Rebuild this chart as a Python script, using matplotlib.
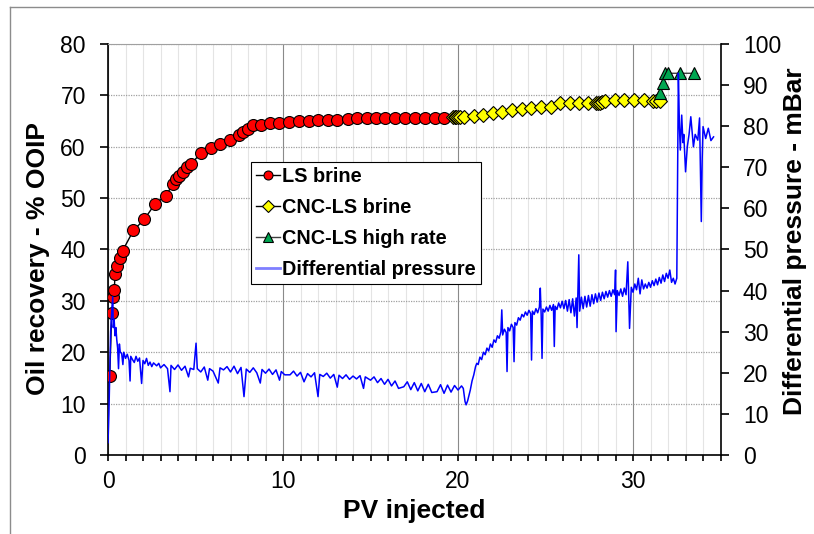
import numpy as np
import matplotlib.pyplot as plt
from matplotlib.lines import Line2D
from matplotlib.ticker import MultipleLocator

plt.rcParams['font.family'] = ['Liberation Sans', 'DejaVu Sans']

# LS brine (PV, % OOIP)
ls_pv = [0.1, 0.21, 0.3, 0.36, 0.4, 0.5, 0.69, 0.84, 1.45, 2.08, 2.69, 3.31, 3.7, 3.89,
         4.08, 4.27, 4.5, 4.74, 5.31, 5.87, 6.4, 6.97, 7.49, 7.73, 8.02, 8.3, 8.72, 9.26,
         9.79, 10.36, 10.91, 11.49, 12.02, 12.57, 13.1, 13.7, 14.2, 14.8, 15.3, 15.85,
         16.4, 16.97, 17.54, 18.1, 18.69, 19.2]
ls_rec = [15.4, 27.6, 30.7, 32.2, 35.2, 36.7, 38.3, 39.8, 43.7, 45.9, 48.9, 50.5, 52.7, 53.7,
          54.4, 55.1, 56.1, 56.6, 58.8, 59.8, 60.5, 61.3, 62.3, 62.9, 63.5, 64.2, 64.2, 64.6,
          64.6, 64.9, 64.95, 65.1, 65.2, 65.3, 65.3, 65.4, 65.5, 65.5, 65.5, 65.5,
          65.5, 65.5, 65.5, 65.5, 65.5, 65.5]

# CNC-LS brine
cnc_pv = [19.7, 19.8, 19.9, 20.0, 20.1, 20.34, 20.9, 21.45, 21.98, 22.5, 23.07, 23.64, 24.19,
          24.74, 25.31, 25.83, 26.4, 26.93, 27.45, 27.9, 28.0, 28.1, 28.25, 28.4, 28.97,
          29.5, 30.07, 30.6, 31.16, 31.3, 31.54]
cnc_rec = [65.7, 65.7, 65.7, 65.7, 65.7, 65.85, 66.0, 66.1, 66.5, 66.8, 67.15, 67.35, 67.6,
           67.8, 67.8, 68.6, 68.6, 68.6, 68.6, 68.6, 68.6, 68.6, 68.7, 68.9, 69.1,
           69.1, 69.1, 69.1, 69.0, 68.9, 68.9]

# CNC-LS high rate
hr_pv = [31.54, 31.7, 31.8, 32.0, 32.7, 33.5]
hr_rec = [70.4, 72.5, 74.3, 74.3, 74.3, 74.3]

# differential pressure, (PV, mBar)
dp_points = [
    (0, 3), (0.05, 10), (0.1, 20), (0.15, 30), (0.2, 34), (0.27, 38.5), (0.3, 31),
    (0.35, 33), (0.4, 29), (0.45, 31), (0.5, 28), (0.55, 26), (0.6, 21), (0.65, 27),
    (0.7, 25), (0.78, 24.7), (0.85, 22), (0.9, 25), (1.0, 23.5), (1.1, 24.5), (1.2, 23),
    (1.26, 18), (1.3, 24), (1.4, 23.2), (1.5, 22.5), (1.6, 24), (1.7, 22.8), (1.8, 23.6),
    (1.92, 17.4), (2.0, 23), (2.1, 22.2), (2.2, 23.5), (2.3, 21.8), (2.4, 22.6), (2.5, 21.5),
    (2.6, 22.4), (2.78, 21.7), (2.9, 22.3), (3.0, 21.2), (3.2, 22), (3.4, 21), (3.54, 15.4),
    (3.6, 21.8), (3.8, 20.8), (4.0, 21.9), (4.2, 20.6), (4.4, 21.6), (4.6, 19), (4.7, 21.1),
    (4.9, 20.8), (5.03, 27.2), (5.1, 21), (5.3, 20.2), (5.5, 21.4), (5.7, 18.2), (5.8, 21),
    (6.0, 20.4), (6.3, 17.5), (6.4, 21.2), (6.6, 20.7), (6.8, 21.5), (7.0, 20.2), (7.2, 21.6),
    (7.4, 19.8), (7.6, 21.3), (7.77, 14.2), (7.9, 20.9), (8.1, 20.1), (8.3, 21.2), (8.5, 20.0),
    (8.7, 17.5), (8.8, 20.8), (9.0, 19.9), (9.2, 20.9), (9.4, 19.6), (9.6, 20.7), (9.8, 18.2),
    (9.9, 20.3), (10.1, 19.5), (10.4, 19.5), (10.6, 20.4), (10.8, 19.2), (11.0, 20.1),
    (11.2, 17.8), (11.4, 19.8), (11.6, 19.0), (11.8, 20.0), (12.0, 14.2), (12.1, 19.6),
    (12.3, 19.1), (12.5, 19.9), (12.7, 18.7), (12.9, 19.6), (13.1, 16.5), (13.2, 19.4),
    (13.4, 18.6), (13.6, 19.5), (13.8, 18.4), (14.0, 19.2), (14.2, 18.5), (14.4, 19.3),
    (14.6, 16.2), (14.7, 19.0), (15.0, 18.2), (15.2, 19.0), (15.4, 17.6), (15.6, 18.6),
    (15.8, 17.2), (16.0, 18.4), (16.2, 16.8), (16.4, 18.0), (16.6, 16.2), (16.9, 16.6),
    (17.1, 17.8), (17.3, 15.9), (17.5, 17.6), (17.7, 15.6), (17.9, 17.4), (18.1, 15.4),
    (18.3, 17.2), (18.5, 15.2), (18.8, 15.4), (19.0, 17.1), (19.2, 15.0), (19.4, 17.0),
    (19.6, 15.3), (19.8, 16.9), (20.0, 15.8), (20.2, 16.8), (20.3, 16.2), (20.4, 13.0),
    (20.46, 12.2), (20.55, 13.2), (20.7, 15.8), (20.8, 18.0), (20.9, 19.5), (21.0, 21.5),
    (21.07, 22.3), (21.15, 22.0), (21.25, 23.8), (21.35, 23.2), (21.45, 25.0), (21.55, 24.4),
    (21.65, 26.0), (21.75, 25.3), (21.85, 27.0), (21.95, 26.2), (22.05, 28.0), (22.15, 27.4),
    (22.25, 29.0), (22.35, 28.4), (22.45, 30.0), (22.5, 35.3), (22.55, 29.2), (22.65, 30.6),
    (22.75, 29.8), (22.8, 20.3), (22.85, 31.0), (22.95, 30.2), (23.05, 31.8), (23.15, 31.0),
    (23.2, 22.7), (23.25, 32.2), (23.35, 31.6), (23.45, 33.4), (23.55, 32.8), (23.65, 34.2),
    (23.75, 33.6), (23.85, 34.8), (23.95, 34.0), (24.05, 35.2), (24.15, 34.4), (24.2, 23.1),
    (24.25, 35.0), (24.35, 34.2), (24.45, 35.6), (24.55, 34.6), (24.65, 36.0), (24.7, 40.6),
    (24.75, 34.0), (24.8, 23.5), (24.85, 35.5), (24.95, 34.8), (25.05, 36.0), (25.15, 35.0),
    (25.25, 36.4), (25.35, 35.2), (25.45, 36.6), (25.5, 26.4), (25.55, 36.2), (25.65, 35.4),
    (25.75, 37.0), (25.85, 35.8), (25.95, 37.4), (26.05, 35.6), (26.15, 37.6), (26.25, 35.0),
    (26.35, 37.8), (26.45, 34.6), (26.55, 38.0), (26.65, 33.8), (26.75, 38.2), (26.8, 31.0),
    (26.9, 48.7), (26.95, 35.0), (27.05, 38.4), (27.15, 35.6), (27.25, 38.6), (27.35, 36.0),
    (27.45, 38.8), (27.55, 36.2), (27.65, 39.0), (27.75, 36.8), (27.85, 39.2), (27.95, 37.2),
    (28.05, 39.4), (28.15, 37.6), (28.25, 39.6), (28.35, 38.0), (28.45, 39.8), (28.55, 38.4),
    (28.65, 40.0), (28.75, 38.6), (28.85, 40.2), (28.95, 39.0), (29.0, 45.0), (29.03, 30.0),
    (29.1, 40.0), (29.2, 38.8), (29.3, 40.4), (29.4, 38.6), (29.5, 40.6), (29.6, 39.0),
    (29.7, 47.0), (29.8, 30.8), (29.9, 40.8), (30.0, 39.6), (30.1, 41.6), (30.2, 40.2),
    (30.3, 43.0), (30.4, 39.2), (30.5, 42.6), (30.6, 40.4), (30.7, 41.6), (30.8, 40.6),
    (30.9, 42.0), (31.0, 40.8), (31.1, 42.4), (31.2, 41.2), (31.3, 42.8), (31.4, 41.4),
    (31.5, 43.2), (31.6, 41.8), (31.7, 43.8), (31.8, 42.2), (31.9, 44.2), (32.0, 43.0),
    (32.1, 45.0), (32.2, 42.0), (32.3, 43.0), (32.4, 41.6), (32.5, 43.0), (32.55, 70),
    (32.59, 92.9), (32.65, 80), (32.7, 74.2), (32.78, 82.7), (32.85, 76), (32.9, 78),
    (33.0, 68.9), (33.1, 75), (33.2, 78), (33.3, 82.3), (33.45, 75), (33.55, 78),
    (33.7, 76.6), (33.8, 82), (33.85, 70), (33.9, 56.8), (33.95, 72), (34.0, 79.9),
    (34.15, 77), (34.3, 79.5), (34.45, 76.5), (34.6, 77.4),
]
dp_pv = [p[0] for p in dp_points]
dp_mbar = [p[1] for p in dp_points]

fig = plt.figure(figsize=(8.14, 5.34), dpi=100)
ax = fig.add_axes([0.1327, 0.148, 0.7525, 0.7696])

# outer chart frame
fig.add_artist(Line2D([0.0123, 1.0], [0.987, 0.987], color='#8c8c8c', lw=1))
fig.add_artist(Line2D([0.0123, 0.0123], [0.987, 0.0], color='#8c8c8c', lw=1))

ax.plot(ls_pv, ls_rec, '-o', color='black', lw=1, mfc='#ff0000', mec='black',
        mew=0.8, ms=8.6, label='LS brine', zorder=4)
ax.plot(cnc_pv, cnc_rec, '-D', color='black', lw=1, mfc='#ffff00', mec='black',
        mew=0.8, ms=7.5, label='CNC-LS brine', zorder=4)
ax.plot(hr_pv, hr_rec, '-^', color='#404040', lw=1, mfc='#00a651', mec='black',
        mew=0.8, ms=9, label='CNC-LS high rate', zorder=4)

ax.set_xlim(0, 35)
ax.set_ylim(0, 80)
ax.xaxis.set_major_locator(MultipleLocator(10))
ax.xaxis.set_minor_locator(MultipleLocator(1))
ax.yaxis.set_major_locator(MultipleLocator(10))
ax.grid(axis='x', which='minor', color='#e4e4e4', lw=0.8)
ax.grid(axis='x', which='major', color='#8a8a8a', lw=0.8)
ax.grid(axis='y', which='major', color='#a0a0a0', lw=0.9, ls=(0, (1, 1)))
ax.set_axisbelow(True)
ax.tick_params(axis='y', which='major', direction='out', length=6, width=1.2,
               labelsize=16.5, pad=10, colors='black')
ax.tick_params(axis='x', which='major', direction='out', length=4, width=1.2,
               labelsize=16.5, pad=7, colors='black')
ax.tick_params(axis='x', which='minor', direction='out', length=4, width=1.2)
ax.spines['top'].set_color('#a0a0a0')
ax.spines['right'].set_visible(False)
ax.spines['left'].set_linewidth(1.2)
ax.spines['bottom'].set_linewidth(1.2)
ax.set_xlabel('PV injected', fontsize=19, fontweight='bold', va='center')
ax.xaxis.set_label_coords(0.5, -0.136)
ax.set_ylabel('Oil recovery - % OOIP', fontsize=19, fontweight='bold', va='center')
ax.yaxis.set_label_coords(-0.115, 0.479)

ax2 = ax.twinx()
ax2.plot(dp_pv, dp_mbar, color='#0000ff', lw=1.1, zorder=5)
ax2.set_ylim(0, 100)
ax2.yaxis.set_major_locator(MultipleLocator(10))
ax2.tick_params(axis='y', direction='out', length=6, width=1.2, labelsize=16.5, pad=10)
ax2.spines['right'].set_linewidth(1.2)
ax2.spines['top'].set_visible(False)
ax2.spines['left'].set_visible(False)
ax2.spines['bottom'].set_visible(False)
ax2.set_ylabel('Differential pressure - mBar', fontsize=19, fontweight='bold', va='center')
ax2.yaxis.set_label_coords(1.122, 0.52)

handles = ax.get_legend_handles_labels()[0]
handles.append(Line2D([], [], color='#7f7fff', lw=2))
labels = ['LS brine', 'CNC-LS brine', 'CNC-LS high rate', 'Differential pressure']
leg = ax2.legend(handles, labels, loc='upper left', bbox_to_anchor=(0.234, 0.713),
                 borderaxespad=0, fancybox=False, edgecolor='black', framealpha=1,
                 handlelength=1.2, handletextpad=0.1, borderpad=0.25, labelspacing=0.6,
                 prop={'size': 14.3, 'weight': 'bold'}, markerscale=0.75)
leg.get_frame().set_linewidth(0.8)
leg.set_zorder(10)

fig.savefig('out.png', dpi=100)
